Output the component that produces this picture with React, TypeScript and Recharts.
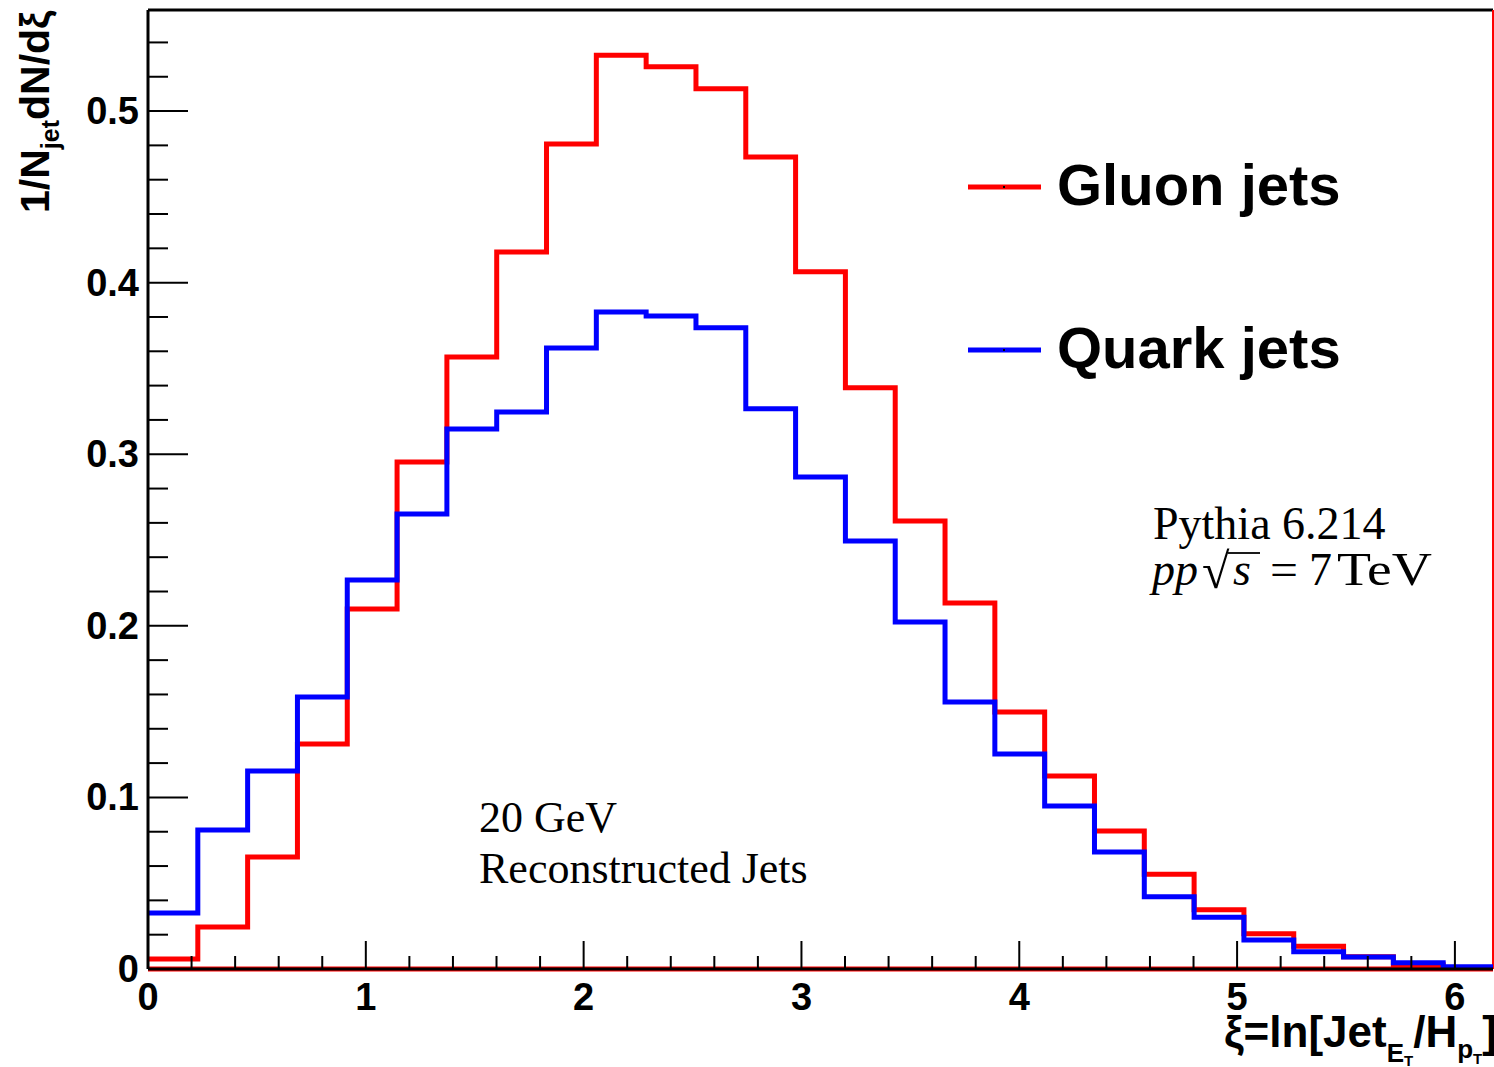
import { ComposedChart, Line, XAxis, YAxis, ReferenceLine, Legend } from 'recharts';

// histogram binning (27 equal bins from xi = 0)
const BIN_W = 0.2287;
const N_BINS = 27;
const X_MAX = BIN_W * N_BINS;
const Y_MAX = 0.5589;

// bin contents
const gluonJets = [
  0.0058, 0.0245, 0.0653, 0.1311, 0.2098, 0.2955, 0.3566, 0.4178, 0.4808, 0.5326,
  0.5258, 0.513, 0.4732, 0.4064, 0.3388, 0.2611, 0.2133, 0.1498, 0.1125, 0.0804,
  0.0552, 0.0346, 0.0206, 0.0133, 0.0072, 0.0025, 0.0006,
];
const quarkJets = [
  0.0326, 0.081, 0.1154, 0.1585, 0.2267, 0.2652, 0.3147, 0.3246, 0.3619, 0.3829,
  0.3805, 0.3737, 0.3265, 0.2867, 0.2494, 0.2022, 0.1556, 0.1253, 0.095, 0.0682,
  0.0421, 0.0301, 0.0169, 0.0101, 0.007, 0.0037, 0.0013,
];

const xTicks = [0, 0.2, 0.4, 0.6, 0.8, 1, 1.2, 1.4, 1.6, 1.8, 2, 2.2, 2.4, 2.6, 2.8, 3, 3.2, 3.4, 3.6, 3.8, 4, 4.2, 4.4, 4.6, 4.8, 5, 5.2, 5.4, 5.6, 5.8, 6];
const xLabels = [0, 1, 2, 3, 4, 5, 6];
const yTicks = [0, 0.02, 0.04, 0.06, 0.08, 0.1, 0.12, 0.14, 0.16, 0.18, 0.2, 0.22, 0.24, 0.26, 0.28, 0.3, 0.32, 0.34, 0.36, 0.38, 0.4, 0.42, 0.44, 0.46, 0.48, 0.5, 0.52, 0.54];
const yLabels = [0, 0.1, 0.2, 0.3, 0.4, 0.5];

// one point per bin edge, last bin repeated so stepAfter closes it
const data = Array.from({ length: N_BINS + 1 }, (_, i) => ({
  xi: i * BIN_W,
  gluon: gluonJets[Math.min(i, N_BINS - 1)],
  quark: quarkJets[Math.min(i, N_BINS - 1)],
}));

const SANS = '"Liberation Sans", Arial, Helvetica, sans-serif';
const SERIF = '"Liberation Serif", "Times New Roman", serif';

const isMajor = (v: number, list: number[]) => list.some((m) => Math.abs(m - v) < 1e-6);

function XTick({ x, y, payload }: any) {
  const major = isMajor(payload.value, xLabels);
  return (
    <g>
      <line x1={x} x2={x} y1={y} y2={y - (major ? 28 : 13)} stroke="#000" strokeWidth={2} />
      {major && (
        <text x={x} y={y + 41} textAnchor="middle" fontFamily={SANS} fontWeight="bold" fontSize={38} fill="#000">
          {payload.value}
        </text>
      )}
    </g>
  );
}

function YTick({ x, y, payload }: any) {
  const major = isMajor(payload.value, yLabels);
  return (
    <g>
      <line x1={x} x2={x + (major ? 40 : 20)} y1={y} y2={y} stroke="#000" strokeWidth={2} />
      {major && (
        <text x={x - 9} y={y + 13} textAnchor="end" fontFamily={SANS} fontWeight="bold" fontSize={38} fill="#000">
          {payload.value}
        </text>
      )}
    </g>
  );
}

function LegendBox({ payload }: any) {
  const rows = (payload || []).filter((p: any) => p.type !== 'none');
  return (
    <svg width={420} height={260}>
      {rows.map((p: any, i: number) => {
        const ly = 48 + i * 163;
        return (
          <g key={p.value}>
            <line x1={8} x2={81} y1={ly} y2={ly} stroke={p.color} strokeWidth={5} />
            <rect x={43} y={ly - 1} width={2} height={2} fill="#000" />
            <text x={97} y={ly + 18} fontFamily={SANS} fontWeight="bold" fontSize={58} fill="#000">
              {p.value}
            </text>
          </g>
        );
      })}
    </svg>
  );
}

export default function App() {
  return (
    <div style={{ position: 'absolute', left: 0, top: 0, width: 1494, height: 1067, background: '#fff' }}>
      <ComposedChart width={1494} height={1067} data={data} margin={{ top: 10, right: 1, left: 48, bottom: 38 }}>
        <XAxis
          dataKey="xi"
          type="number"
          domain={[0, X_MAX]}
          ticks={xTicks}
          interval={0}
          tick={<XTick />}
          tickLine={false}
          tickSize={0}
          tickMargin={0}
          axisLine={{ stroke: '#000', strokeWidth: 3 }}
          height={60}
          allowDataOverflow
        />
        <YAxis
          type="number"
          domain={[0, Y_MAX]}
          ticks={yTicks}
          interval={0}
          tick={<YTick />}
          tickLine={false}
          tickSize={0}
          tickMargin={0}
          axisLine={{ stroke: '#000', strokeWidth: 3 }}
          width={100}
          allowDataOverflow
        />
        <ReferenceLine y={Y_MAX} stroke="#000" strokeWidth={3} />
        <ReferenceLine x={X_MAX} stroke="#ff0000" strokeWidth={2} />
        <ReferenceLine y={0} stroke="#ff0000" strokeWidth={5} />
        <Line
          type="stepAfter"
          dataKey="gluon"
          name="Gluon jets"
          stroke="#ff0000"
          strokeWidth={5}
          dot={false}
          isAnimationActive={false}
        />
        <Line
          type="stepAfter"
          dataKey="quark"
          name="Quark jets"
          stroke="#0000ff"
          strokeWidth={5}
          dot={false}
          isAnimationActive={false}
        />
        <Legend
          layout="horizontal"
          verticalAlign="middle"
          align="center"
          content={<LegendBox />}
          wrapperStyle={{ position: 'absolute', left: 960, top: 139, width: 420, height: 260 }}
        />
      </ComposedChart>

      <svg
        width={1494}
        height={1067}
        style={{ position: 'absolute', left: 0, top: 0, pointerEvents: 'none' }}
      >
        <text
          transform="translate(49,213) rotate(-90)"
          fontFamily={SANS}
          fontWeight="bold"
          fontSize={41}
          fill="#000"
        >
          1/N
          <tspan fontSize={25} dy={10}>jet</tspan>
          <tspan dy={-10}>dN/dξ</tspan>
        </text>

        <text x={1224} y={1047} fontFamily={SANS} fontWeight="bold" fontSize={44} fill="#000">
          ξ=ln[Jet
          <tspan fontSize={26} dy={15}>E</tspan>
          <tspan fontSize={15} dy={4}>T</tspan>
          <tspan dy={-19}>/H</tspan>
          <tspan fontSize={26} dy={11}>p</tspan>
          <tspan fontSize={15} dy={6}>T</tspan>
          <tspan dy={-17}>]</tspan>
        </text>

        <text x={1153} y={539} fontFamily={SERIF} fontSize={46} fill="#000">Pythia 6.214</text>
        <text x={1152} y={585} fontFamily={SERIF} fontSize={46} fill="#000" fontStyle="italic">pp</text>
        <text x={1202} y={588} fontFamily={SERIF} fontSize={50} fill="#000">√</text>
        <line x1={1228} x2={1260} y1={553} y2={553} stroke="#000" strokeWidth={1.8} />
        <text x={1233} y={585} fontFamily={SERIF} fontSize={46} fill="#000" fontStyle="italic">s</text>
        <text x={1270} y={585} fontFamily={SERIF} fontSize={46} fill="#000" textLength={28} lengthAdjust="spacingAndGlyphs">=</text>
        <text x={1309} y={585} fontFamily={SERIF} fontSize={46} fill="#000">7</text>
        <text x={1337} y={585} fontFamily={SERIF} fontSize={46} fill="#000" textLength={95} lengthAdjust="spacingAndGlyphs">TeV</text>

        <text x={479} y={832} fontFamily={SERIF} fontSize={44} fill="#000">20 GeV</text>
        <text x={479} y={883} fontFamily={SERIF} fontSize={44} fill="#000">Reconstructed Jets</text>
      </svg>
    </div>
  );
}
